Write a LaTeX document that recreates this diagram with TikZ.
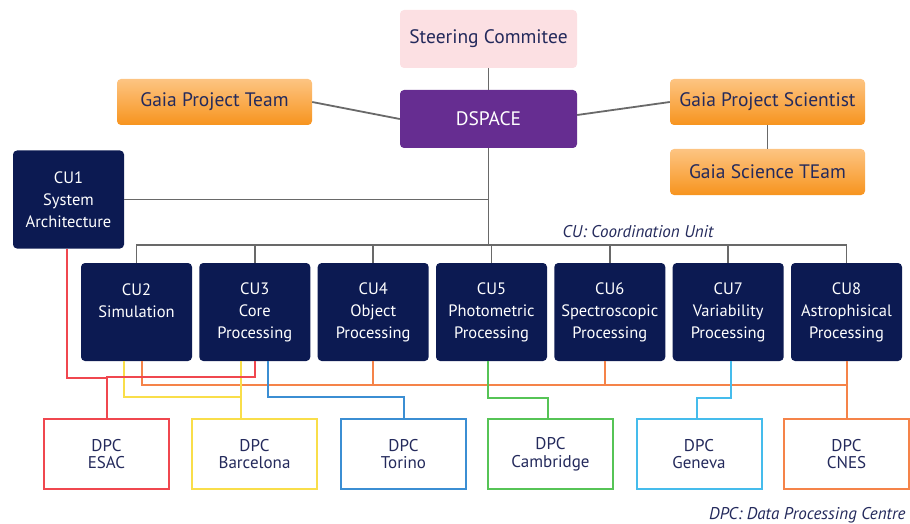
\documentclass[tikz,border=0pt]{standalone}
\usepackage{fontspec}
\setmainfont{PT Sans}
\usetikzlibrary{positioning}

\definecolor{navy}{RGB}{12,26,82}
\definecolor{ink}{RGB}{36,42,92}
\definecolor{dspurple}{RGB}{102,45,145}
\definecolor{pinkbox}{RGB}{252,224,227}
\definecolor{orangetop}{RGB}{253,196,130}
\definecolor{orangebot}{RGB}{247,148,30}
\definecolor{wire}{RGB}{105,105,105}
\definecolor{esacred}{RGB}{240,71,79}
\definecolor{bcnyellow}{RGB}{249,222,74}
\definecolor{torblue}{RGB}{59,142,211}
\definecolor{camgreen}{RGB}{86,196,86}
\definecolor{genblue}{RGB}{69,188,236}
\definecolor{cnesorange}{RGB}{245,131,73}

\begin{document}
\begin{tikzpicture}[x=1pt,y=-1pt,
    box/.style={rounded corners=4pt,inner sep=0pt,align=center},
    board/.style={box,minimum width=177pt,minimum height=58pt,font=\fontsize{19.5}{22}\selectfont},
    team/.style={box,minimum width=195pt,minimum height=46pt,text=ink,
      top color=orangetop,bottom color=orangebot,font=\fontsize{19.5}{22}\selectfont},
    cu/.style={box,fill=navy,text=white,minimum width=111pt,minimum height=98pt,
      font=\fontsize{16.5}{22}\selectfont},
    dpc/.style={draw=#1,line width=2pt,inner sep=0pt,align=center,fill=white,text=ink,
      minimum width=125pt,minimum height=70pt,font=\fontsize{17}{17.5}\selectfont},
    wireline/.style={draw=wire,line width=1.8pt},
    link/.style={draw=#1,line width=2pt},
    note/.style={text=ink,font=\fontsize{17}{19}\selectfont\itshape}]
  \useasboundingbox (0,0) rectangle (910,524);

  % management
  \node[board,fill=pinkbox,text=ink] (steer) at (488.5,39) {Steering Commitee};
  \node[board,fill=dspurple,text=white] (dspace) at (488.5,119) {DSPACE};
  \node[team] (gpt) at (214.5,102) {Gaia Project Team};
  \node[team] (gps) at (767.5,102) {Gaia Project Scientist};
  \node[team] (gst) at (767.5,172) {Gaia Science TEam};

  % coordination units
  \node[cu] (cu1) at (68.5,199.5) {CU1\\System\\Architecture};
  \node[cu] (cu2) at (136.5,312) {CU2\\Simulation\\\mbox{}};
  \node[cu] (cu3) at (254.8,312) {CU3\\Core\\Processing};
  \node[cu] (cu4) at (373.2,312) {CU4\\Object\\Processing};
  \node[cu] (cu5) at (491.5,312) {CU5\\Photometric\\Processing};
  \node[cu] (cu6) at (609.8,312) {CU6\\Spectroscopic\\Processing};
  \node[cu] (cu7) at (728.2,312) {CU7\\Variability\\Processing};
  \node[cu] (cu8) at (846.5,312) {CU8\\Astrophisical\\Processing};

  % data processing centres
  \node[dpc=esacred] (esac) at (106.5,454) {DPC\\ESAC};
  \node[dpc=bcnyellow] (bcn) at (254.5,454) {DPC\\Barcelona};
  \node[dpc=torblue] (tor) at (403.5,454) {DPC\\Torino};
  \node[dpc=camgreen] (cam) at (550.5,454) {DPC\\Cambridge};
  \node[dpc=genblue] (gen) at (699,454) {DPC\\Geneva};
  \node[dpc=cnesorange] (cnes) at (846.5,454) {DPC\\CNES};

  \node[note] (culabel) at (638,232) {CU: Coordination Unit};
  \node[note,anchor=east] (dpclabel) at (909,515) {DPC: Data Processing Centre};

  % gray hierarchy
  \coordinate (bus) at (0,245);
  \draw[wireline] (steer) -- (dspace);
  \draw[wireline] (gpt.east) -- (dspace.west);
  \draw[wireline] ([yshift=4pt]dspace.east) -- (gps.west);
  \draw[wireline] (gps) -- (gst);
  \draw[wireline] (cu1.east) -- (cu1.east -| dspace.south);
  \foreach \i in {2,...,8}
    \draw[wireline] (dspace.south) -- (dspace.south |- bus) -| (cu\i.north);

  % links from the units to the centres
  \draw[link=cnesorange] ([xshift=5pt]cu2.south) -- ++(0,24) -| (cnes.north);
  \draw[link=cnesorange] (cu4.south) -- ++(0,24) -| (cnes.north);
  \draw[link=cnesorange] ([xshift=-5pt]cu6.south) -- ++(0,24) -| (cnes.north);
  \draw[link=cnesorange] (cu8.south) -- (cnes.north);
  \draw[link=bcnyellow] ([xshift=-12.5pt]cu2.south) -- ++(0,36) -| ([xshift=-13.5pt]bcn.north);
  \draw[link=bcnyellow] ([xshift=-13.8pt]cu3.south) -- ([xshift=-13.5pt]bcn.north);
  \draw[link=esacred] ([xshift=-1.5pt]cu1.south) -- ++(0,129) -| (esac.north);
  \draw[link=esacred] (cu3.south) -- ++(0,16) -| (esac.north);
  \draw[link=torblue] ([xshift=13.5pt]cu3.south) -- ++(0,36) -| (tor.north);
  \draw[link=camgreen] ([xshift=-3.5pt]cu5.south) -- ++(0,37) -| ([xshift=-2.5pt]cam.north);
  \draw[link=genblue] ([xshift=3pt]cu7.south) -- ++(0,37) -| ([xshift=-2pt]gen.north);
\end{tikzpicture}
\end{document}
